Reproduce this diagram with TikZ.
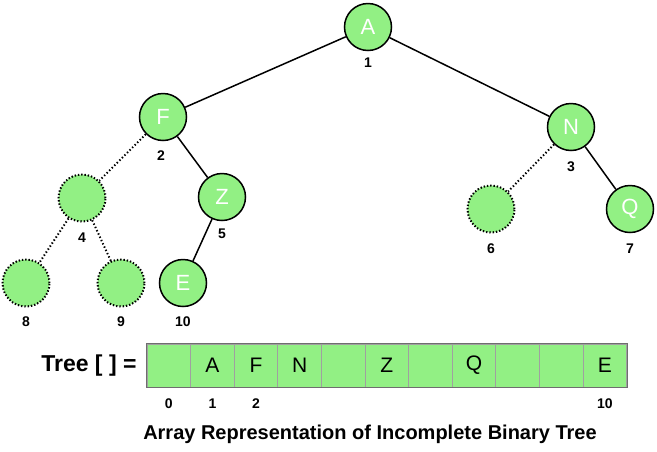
\documentclass[tikz,border=0pt]{standalone}
\usepackage{fontspec}
\setmainfont{Liberation Sans}
\usetikzlibrary{positioning}
\definecolor{nodegreen}{RGB}{146,240,132}
\definecolor{cellgray}{RGB}{160,160,160}
\definecolor{boxgray}{RGB}{110,110,110}

\begin{document}
\begin{tikzpicture}[x=1pt, y=-1pt, line width=1.5pt,
    vert/.style={circle, draw=black, fill=nodegreen, minimum size=47pt, inner sep=0pt,
                 text=white, font=\fontsize{22}{22}\selectfont},
    ghost/.style={vert, line width=2pt, dash pattern=on 1.4pt off 1.9pt},
    dots/.style={line width=2pt, dash pattern=on 1.4pt off 2.2pt},
    idx/.style={font=\bfseries\fontsize{14}{14}\selectfont},
    cell/.style={draw=cellgray, line width=0.8pt, fill=nodegreen, minimum width=43.6pt,
                 minimum height=43pt, inner sep=0pt, font=\fontsize{21}{21}\selectfont}]
    \useasboundingbox (0,0) rectangle (657,451);

    % tree
    \node[vert] (A) at (368,27) {A};
    \node[vert] (F) at (163,117) {F};
    \node[vert] (N) at (571,127) {N};
    \node[ghost] (g4) at (82,198) {};
    \node[vert] (Z) at (222,197) {Z};
    \node[ghost] (g6) at (491,209) {};
    \node[vert] (Q) at (630,209) {Q};
    \node[ghost] (g8) at (26,283) {};
    \node[ghost] (g9) at (121,283) {};
    \node[vert] (E) at (183,283) {E};

    \draw (A) -- (F);
    \draw (A) -- (N);
    \draw[dots] (F) -- (g4);
    \draw (F) -- (Z);
    \draw[dots] (g4) -- (g8);
    \draw[dots] (g4) -- (g9);
    \draw (Z) -- (E);
    \draw[dots] (N) -- (g6);
    \draw (N) -- (Q);

    % positions
    \node[idx] (p1) at (368,63) {1};
    \node[idx] (p2) at (161,156) {2};
    \node[idx] (p3) at (571,167) {3};
    \node[idx] (p4) at (82,238) {4};
    \node[idx] (p5) at (222,234) {5};
    \node[idx] (p6) at (491,249) {6};
    \node[idx] (p7) at (630,249) {7};
    \node[idx] (p8) at (26,322) {8};
    \node[idx] (p9) at (121,322) {9};
    \node[idx] (p10) at (183,322) {10};

    % array
    \foreach \i/\t in {0/, 1/A, 2/F, 3/N, 4/, 5/Z, 6/, 7/Q, 8/, 9/, 10/E}
        \node[cell] (c\i) at ({147+43.6*(\i+0.5)},365.5) {\t};
    \draw[boxgray, line width=1pt] (c0.north west) rectangle (c10.south east);
    \node[font=\bfseries\fontsize{23}{23}\selectfont, left=6pt of c0] (tree) {Tree [ ] =};

    \foreach \i in {0,1,2,10}
        \node[idx, below=7pt of c\i] (n\i) {\i};

    \node[font=\bfseries\fontsize{20}{20}\selectfont] (title) at (370,434)
        {Array Representation of Incomplete Binary Tree};
\end{tikzpicture}
\end{document}
